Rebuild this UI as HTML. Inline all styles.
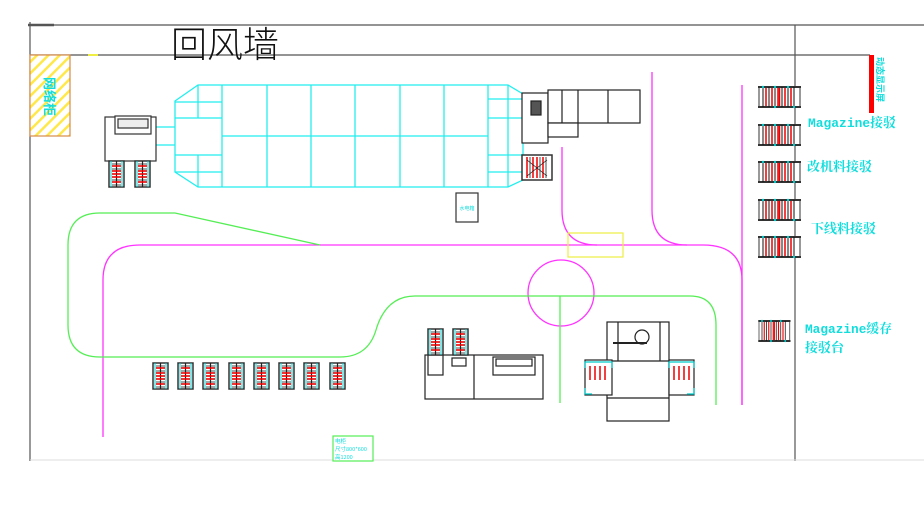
<!DOCTYPE html>
<html><head><meta charset="utf-8"><style>
html,body{margin:0;padding:0;background:#fff;width:924px;height:511px;overflow:hidden}
svg{display:block}
.t{font-family:"Liberation Mono","Noto Serif CJK SC","Noto Sans CJK SC",monospace}
</style></head><body>
<svg width="924" height="511" viewBox="0 0 924 511" xmlns="http://www.w3.org/2000/svg">
<defs>
<pattern id="hatch" width="8" height="8" patternUnits="userSpaceOnUse" patternTransform="rotate(-45)">
<rect width="8" height="8" fill="#fff"/><rect width="8" height="2.5" fill="#ffe94a"/></pattern>
<g id="rackH">
<rect x="0" y="1" width="41" height="20" fill="#fff" stroke="#333" stroke-width="1"/>
<line x1="-1" y1="1" x2="42" y2="1" stroke="#333" stroke-width="2"/>
<line x1="-1" y1="21" x2="42" y2="21" stroke="#333" stroke-width="2"/>
<g stroke="#111" stroke-width="1"><line x1="4" y1="1" x2="4" y2="21"/><line x1="10" y1="1" x2="10" y2="21"/><line x1="16" y1="1" x2="16" y2="21"/><line x1="23" y1="1" x2="23" y2="21"/><line x1="29" y1="1" x2="29" y2="21"/><line x1="35" y1="1" x2="35" y2="21"/></g>
<g stroke="#e00" stroke-width="1.5"><line x1="7" y1="2" x2="7" y2="20"/><line x1="13" y1="2" x2="13" y2="20"/><line x1="19" y1="2" x2="19" y2="20"/><line x1="20.5" y1="2" x2="20.5" y2="20"/><line x1="26" y1="2" x2="26" y2="20"/><line x1="32" y1="2" x2="32" y2="20"/></g>
<g fill="#0cc"><circle cx="4" cy="1" r="1.2"/><circle cx="16" cy="1" r="1.2"/><circle cx="29" cy="1" r="1.2"/><circle cx="16" cy="21" r="1.2"/><circle cx="35" cy="21" r="1.2"/></g>
</g>
<g id="rackV">
<rect x="0" y="0" width="15" height="26" fill="#fff" stroke="#333" stroke-width="1.5"/>
<g stroke="#0cc" stroke-width="1"><line x1="2" y1="0" x2="2" y2="26"/><line x1="13" y1="0" x2="13" y2="26"/></g>
<line x1="7.5" y1="0" x2="7.5" y2="26" stroke="#222" stroke-width="1.2"/>
<g stroke="#e00" stroke-width="1.6"><line x1="3" y1="5" x2="12" y2="5"/><line x1="3" y1="10" x2="12" y2="10"/><line x1="3" y1="13" x2="12" y2="13"/><line x1="3" y1="16" x2="12" y2="16"/><line x1="3" y1="21" x2="12" y2="21"/></g>
<g stroke="#222" stroke-width="0.8"><line x1="3" y1="3" x2="12" y2="3"/><line x1="3" y1="8" x2="12" y2="8"/><line x1="3" y1="19" x2="12" y2="19"/><line x1="3" y1="24" x2="12" y2="24"/></g>
</g>
</defs>

<g stroke="#555" stroke-width="1.2" fill="none">
<line x1="30" y1="25" x2="924" y2="25"/>
<line x1="30" y1="55" x2="870" y2="55"/>
<line x1="30" y1="22" x2="30" y2="461"/>
<line x1="795" y1="25" x2="795" y2="461"/>
<line x1="28" y1="25" x2="54" y2="25" stroke-width="2.5"/>
</g>
<line x1="30" y1="460" x2="924" y2="460" stroke="#ddd" stroke-width="1"/>
<line x1="88" y1="55" x2="98" y2="55" stroke="#ee4" stroke-width="2"/>

<text x="171" y="57" font-family="Noto Sans CJK SC,sans-serif" font-weight="300" font-size="36" fill="#111">回风墙</text>

<rect x="30" y="55" width="40" height="81" fill="url(#hatch)" stroke="#d98c4a" stroke-width="1.2"/>
<text transform="translate(45,77) rotate(90)" font-family="Noto Sans CJK SC,sans-serif" font-weight="bold" font-size="13" fill="#1dd">网络柜</text>

<rect x="869" y="55" width="5" height="58" fill="#f00"/>
<text transform="translate(877,57) rotate(90)" font-family="Noto Sans CJK SC,sans-serif" font-size="9" font-weight="bold" fill="#1dd">动态显示屏</text>

<g stroke="#2ee" stroke-width="1.3" fill="none">
<polygon points="175,101 198,85 508,85 523,94 523,180 508,187 198,187 175,172"/>
<line x1="222" y1="85" x2="222" y2="187"/>
<line x1="267" y1="85" x2="267" y2="187"/>
<line x1="311" y1="85" x2="311" y2="187"/>
<line x1="355" y1="85" x2="355" y2="187"/>
<line x1="400" y1="85" x2="400" y2="187"/>
<line x1="444" y1="85" x2="444" y2="187"/>
<line x1="488" y1="85" x2="488" y2="187"/>
<line x1="222" y1="136" x2="488" y2="136"/>
<line x1="198" y1="85" x2="198" y2="118"/><line x1="198" y1="155" x2="198" y2="187"/>
<line x1="175" y1="102" x2="222" y2="102"/><line x1="175" y1="118" x2="222" y2="118"/>
<line x1="175" y1="155" x2="222" y2="155"/><line x1="175" y1="172" x2="222" y2="172"/>
<line x1="508" y1="85" x2="508" y2="187"/>
<line x1="488" y1="99" x2="523" y2="99"/><line x1="488" y1="118" x2="523" y2="118"/>
<line x1="488" y1="155" x2="523" y2="155"/><line x1="488" y1="172" x2="523" y2="172"/>
<line x1="156" y1="127" x2="175" y2="127"/><line x1="156" y1="145" x2="175" y2="145"/>
</g>

<g stroke="#333" stroke-width="1.2" fill="#fff">
<rect x="105" y="117" width="51" height="44"/>
<rect x="115" y="116" width="36" height="18"/>
<rect x="118" y="119" width="30" height="9" fill="#eee"/>
</g>
<use href="#rackV" x="109" y="161"/>
<use href="#rackV" x="135" y="161"/>

<g stroke="#222" stroke-width="1.2" fill="#fff">
<rect x="522" y="93" width="26" height="50"/>
<rect x="548" y="90" width="92" height="33"/>
<rect x="548" y="123" width="30" height="14"/>
<line x1="562" y1="90" x2="562" y2="123"/><line x1="578" y1="90" x2="578" y2="123"/><line x1="608" y1="90" x2="608" y2="123"/>
<rect x="531" y="101" width="10" height="14" fill="#555"/>
</g>
<rect x="522" y="155" width="30" height="25" fill="#fff" stroke="#333" stroke-width="1.5"/>
<g stroke="#e00" stroke-width="1.5"><line x1="527" y1="157" x2="527" y2="178"/><line x1="533" y1="157" x2="533" y2="178"/><line x1="537" y1="157" x2="537" y2="178"/><line x1="543" y1="157" x2="543" y2="178"/></g>
<g stroke="#222" stroke-width="0.8"><line x1="530" y1="157" x2="530" y2="178"/><line x1="540" y1="157" x2="540" y2="178"/><line x1="546" y1="157" x2="546" y2="178"/><line x1="527" y1="160" x2="547" y2="176"/><line x1="547" y1="160" x2="527" y2="176"/></g>

<rect x="456" y="193" width="22" height="29" fill="#fff" stroke="#333" stroke-width="1.2"/>
<text x="467" y="210" font-family="Noto Sans CJK SC,sans-serif" font-size="5" fill="#1dd" text-anchor="middle">水电箱</text>

<g stroke="#f3f" stroke-width="1.3" fill="none">
<path d="M103,437 L103,280 Q103,245 140,245 L703,245 Q742,245 742,280 L742,405"/>
<line x1="742" y1="85" x2="742" y2="405"/>
<path d="M562,147 L562,210 Q562,245 597,245"/>
<path d="M652,72 L652,210 Q652,245 687,245"/>
<circle cx="561" cy="293" r="33"/>
</g>
<rect x="568" y="233" width="55" height="24" fill="none" stroke="#ee4" stroke-width="1.2"/>

<g stroke="#5e5" stroke-width="1.3" fill="none">
<path d="M320,245 L175,213 L100,213 Q68,213 68,245 L68,325 Q68,357 100,357 L340,357 Q368,357 376,330 Q386,296 415,296 L690,296 Q716,296 716,325 L716,405"/>
<line x1="560" y1="296" x2="560" y2="403"/>
</g>

<use href="#rackV" x="153" y="363"/><use href="#rackV" x="178" y="363"/>
<use href="#rackV" x="203" y="363"/><use href="#rackV" x="229" y="363"/>
<use href="#rackV" x="254" y="363"/><use href="#rackV" x="279" y="363"/>
<use href="#rackV" x="304" y="363"/><use href="#rackV" x="330" y="363"/>

<g stroke="#222" stroke-width="1.2" fill="#fff">
<rect x="425" y="355" width="118" height="44"/>
<line x1="474" y1="355" x2="474" y2="399"/>
<rect x="428" y="355" width="15" height="20"/>
<rect x="452" y="358" width="14" height="8"/>
<rect x="493" y="357" width="42" height="18"/>
<rect x="496" y="359" width="36" height="7"/>
</g>
<use href="#rackV" x="428" y="329"/>
<use href="#rackV" x="453" y="329"/>

<g stroke="#222" stroke-width="1.2" fill="#fff">
<rect x="607" y="322" width="62" height="99"/>
<line x1="618" y1="322" x2="618" y2="361"/>
<line x1="660" y1="322" x2="660" y2="361"/>
<line x1="607" y1="361" x2="669" y2="361"/>
<line x1="607" y1="398" x2="669" y2="398"/>
<circle cx="642" cy="337" r="7"/>
<line x1="613" y1="343" x2="647" y2="343" stroke-width="2"/>
<rect x="585" y="360" width="27" height="35"/>
<rect x="669" y="360" width="25" height="35"/>
</g>
<g stroke="#e00" stroke-width="1.5">
<line x1="590" y1="366" x2="590" y2="380"/><line x1="595" y1="366" x2="595" y2="380"/><line x1="600" y1="366" x2="600" y2="380"/><line x1="605" y1="366" x2="605" y2="380"/>
<line x1="674" y1="366" x2="674" y2="380"/><line x1="679" y1="366" x2="679" y2="380"/><line x1="684" y1="366" x2="684" y2="380"/><line x1="689" y1="366" x2="689" y2="380"/>
</g>
<g stroke="#0cc" stroke-width="1.2" fill="none">
<path d="M585,368 L585,362 L612,362 L612,368"/><path d="M669,368 L669,362 L694,362 L694,368"/>
<path d="M585,388 L585,394 L592,394"/><path d="M694,388 L694,394 L687,394"/>
</g>

<rect x="333" y="436" width="40" height="25" fill="#fff" stroke="#5e5" stroke-width="1.2"/>
<text font-family="Noto Sans CJK SC,sans-serif" font-size="5.5" fill="#1dd"><tspan x="335" y="443">电柜</tspan><tspan x="335" y="451">尺寸800*600</tspan><tspan x="335" y="459">高1200</tspan></text>

<use href="#rackH" x="759" y="86"/>
<use href="#rackH" x="759" y="124"/>
<use href="#rackH" x="759" y="161"/>
<use href="#rackH" x="759" y="199"/>
<use href="#rackH" x="759" y="236"/>
<g transform="translate(759,320) scale(0.75,1)"><use href="#rackH"/></g>

<g class="t" font-size="13" font-weight="bold" fill="#1dd">
<text x="808" y="127" textLength="88" lengthAdjust="spacingAndGlyphs">Magazine接驳</text>
<text x="807" y="171">改机料接驳</text>
<text x="811" y="233">下线料接驳</text>
<text x="805" y="333" textLength="87" lengthAdjust="spacingAndGlyphs">Magazine缓存</text>
<text x="805" y="352">接驳台</text>
</g>
</svg>
</body></html>
